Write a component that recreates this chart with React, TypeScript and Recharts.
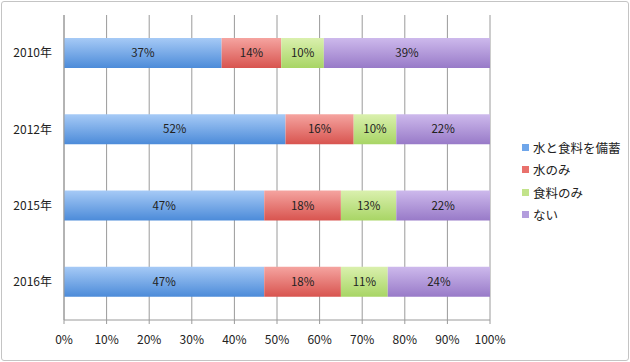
import { BarChart, Bar, XAxis, YAxis, CartesianGrid, Legend, LabelList } from 'recharts';

const years = ['2010年', '2012年', '2015年', '2016年'];
const both = [37, 52, 47, 47];
const waterOnly = [14, 16, 18, 18];
const foodOnly = [10, 10, 13, 11];
const none = [39, 22, 22, 24];
const xTicks = [0, 10, 20, 30, 40, 50, 60, 70, 80, 90, 100];

const series = [
  { key: 'both', name: '水と食料を備蓄', top: '#a6caf6', bottom: '#4c8bd9', swatch: '#6fa6ea' },
  { key: 'water', name: '水のみ', top: '#f5a4a0', bottom: '#d8544f', swatch: '#e9716c' },
  { key: 'food', name: '食料のみ', top: '#daf0ae', bottom: '#a8d565', swatch: '#c2e38a' },
  { key: 'none', name: 'ない', top: '#cdb9ec', bottom: '#987ac8', swatch: '#b39ddd' },
];

const data = years.map((year, i) => ({
  year,
  both: both[i],
  water: waterOnly[i],
  food: foodOnly[i],
  none: none[i],
}));

const FONT = '"Noto Sans CJK JP", "Noto Sans", sans-serif';

const LegendBox = () => (
  <div style={{ fontFamily: FONT, fontSize: 12.5, color: '#222' }}>
    {series.map((s) => (
      <div key={s.key} style={{ display: 'flex', alignItems: 'center', height: 22.5 }}>
        <span style={{ width: 7, height: 7, background: s.swatch, marginRight: 4, display: 'inline-block' }} />
        <span>{s.name}</span>
      </div>
    ))}
  </div>
);

export default function App() {
  return (
    <div style={{ position: 'fixed', left: 0, top: 0, width: 630, height: 362, background: '#fff' }}>
      <div
        style={{
          position: 'absolute',
          left: 1,
          top: 1,
          width: 626,
          height: 358,
          border: '1px solid #c4c4c4',
          borderRadius: 3,
        }}
      />
      <BarChart
        width={630}
        height={362}
        data={data}
        layout="vertical"
        margin={{ top: 15, right: 140, left: 0, bottom: 12 }}
        barSize={30}
        style={{ fontFamily: FONT }}
      >
        <defs>
          {series.map((s) => (
            <linearGradient key={s.key} id={`g-${s.key}`} x1="0" y1="0" x2="0" y2="1">
              <stop offset="0%" stopColor={s.top} />
              <stop offset="100%" stopColor={s.bottom} />
            </linearGradient>
          ))}
        </defs>
        <CartesianGrid horizontal={false} stroke="#9a9a9a" strokeWidth={1} />
        <XAxis
          type="number"
          domain={[0, 100]}
          ticks={xTicks}
          tickFormatter={(v) => `${v}%`}
          height={30}
          tick={{ fontSize: 12, fill: '#222' }}
          tickSize={4}
          tickMargin={11}
          axisLine={{ stroke: '#9a9a9a' }}
          tickLine={{ stroke: '#9a9a9a' }}
          interval={0}
        />
        <YAxis
          type="category"
          dataKey="year"
          width={64}
          tick={{ fontSize: 12, fill: '#222' }}
          tickLine={false}
          tickMargin={6}
          axisLine={{ stroke: '#9a9a9a' }}
        />
        <YAxis
          yAxisId="bounds"
          type="number"
          domain={[0, 4]}
          ticks={[0, 1, 2, 3, 4]}
          reversed
          width={0}
          tick={false}
          tickSize={4}
          tickLine={{ stroke: '#9a9a9a' }}
          axisLine={false}
        />
        <Legend
          layout="vertical"
          align="center"
          verticalAlign="middle"
          wrapperStyle={{ left: 522, top: 136, width: 105 }}
          content={() => <LegendBox />}
        />
        {series.map((s) => (
          <Bar
            key={s.key}
            dataKey={s.key}
            name={s.name}
            stackId="a"
            fill={`url(#g-${s.key})`}
            isAnimationActive={false}
          >
            <LabelList
              dataKey={s.key}
              position="center"
              formatter={(v: number) => `${v}%`}
              style={{ fontSize: 11.5, fill: '#222' }}
            />
          </Bar>
        ))}
      </BarChart>
    </div>
  );
}
